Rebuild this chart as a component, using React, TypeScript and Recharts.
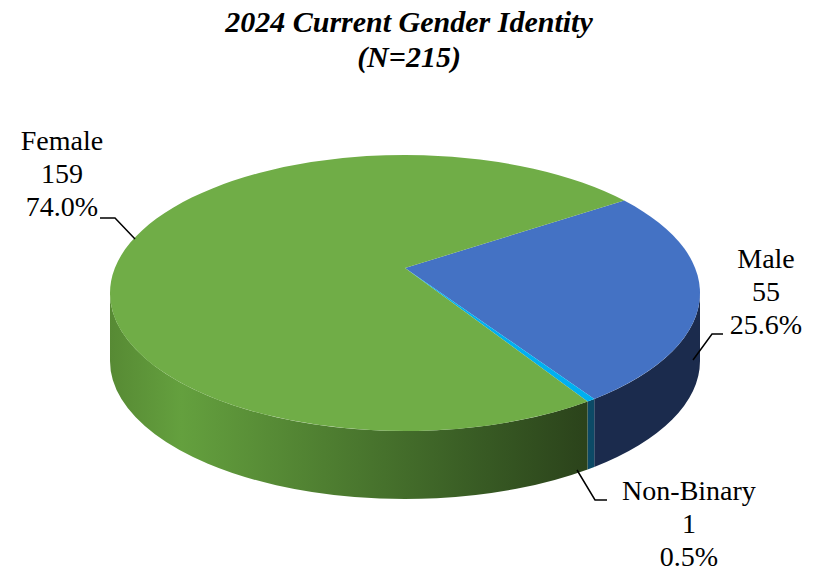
import { Cell, Pie, PieChart } from 'recharts';

// 2024 current gender identity, N=215
const categories = ['Male', 'Non-Binary', 'Female'];
const counts = [55, 1, 159];

const titleLines = ['2024 Current Gender Identity', '(N=215)'];

const topColors: Record<string, string> = {
  Male: '#4472C4',
  'Non-Binary': '#00B0F0',
  Female: '#70AD47',
};

// side wall shading, left to right
const sideStops: Record<string, [number, string][]> = {
  Male: [[0, '#1b2b4d'], [1, '#1b2b4d']],
  'Non-Binary': [[0, '#0c4a66'], [1, '#0c4a66']],
  Female: [
    [0, '#578a34'],
    [0.15, '#64a03e'],
    [0.45, '#4f7f31'],
    [0.75, '#3a5e25'],
    [1, '#2b431b'],
  ],
};

// label placement relative to pie centre: text centre x, first baseline, leader points
const labelLayout: Record<string, { x: number; y: number; line: number[][] }> = {
  Female: { x: -343, y: -143, line: [[-270, -54], [-290, -75], [-305, -75]] },
  Male: { x: 361, y: -25, line: [[288, 67], [307, 41], [318, 41]] },
  'Non-Binary': { x: 284, y: 207, line: [[172, 177], [190, 207], [202, 207]] },
};

const W = 818;
const H = 571;
const CX = 405;
const CY = 293;
const R = 295;
const TILT = 0.468; // ry / rx of the top face
const DEPTH = 68;
const LIFT = 25; // perspective shift of the apex
const FONT = '"Liberation Serif", "Times New Roman", serif';

const data = categories.map((name, i) => ({ name, value: counts[i] }));

const RAD = Math.PI / 180;

function pt(cx: number, cy: number, r: number, deg: number, dy = 0) {
  return [cx + r * Math.cos(deg * RAD), cy - r * TILT * Math.sin(deg * RAD) + dy];
}

function Slice(props: any) {
  const { cx, cy, outerRadius, startAngle, endAngle } = props;
  const name = props.name ?? props.payload?.name;
  const r = outerRadius;
  const ry = r * TILT;
  const hi = Math.max(startAngle, endAngle);
  const lo = Math.min(startAngle, endAngle);
  const large = hi - lo > 180 ? 1 : 0;
  const a = pt(cx, cy, r, hi);
  const b = pt(cx, cy, r, lo);
  const top = `M${cx},${cy - LIFT} L${a[0]},${a[1]} A${r},${ry} 0 ${large} 1 ${b[0]},${b[1]} Z`;

  // visible front wall: parts of the arc in the lower half
  const walls: string[] = [];
  for (let k = -2; k <= 1; k++) {
    const s = Math.min(hi, 360 * k);
    const e = Math.max(lo, 360 * k - 180);
    if (s - e <= 0) continue;
    const p1 = pt(cx, cy, r, s);
    const p2 = pt(cx, cy, r, e);
    const q2 = pt(cx, cy, r, e, DEPTH);
    const q1 = pt(cx, cy, r, s, DEPTH);
    walls.push(
      `M${p1[0]},${p1[1]} A${r},${ry} 0 0 1 ${p2[0]},${p2[1]} L${q2[0]},${q2[1]} A${r},${ry} 0 0 0 ${q1[0]},${q1[1]} Z`,
    );
  }
  const gid = `side-${String(name).replace(/\W/g, '')}`;
  return (
    <g>
      <defs>
        <linearGradient id={gid} gradientUnits="userSpaceOnUse" x1={cx - r} x2={cx + 180} y1={0} y2={0}>
          {(sideStops[name] ?? []).map(([o, c]) => (
            <stop key={o} offset={o} stopColor={c} />
          ))}
        </linearGradient>
      </defs>
      {walls.map((d, i) => (
        <path key={i} d={d} fill={`url(#${gid})`} stroke="none" />
      ))}
      <path d={top} fill={topColors[name]} stroke="none" />
    </g>
  );
}

function SliceLabel(props: any) {
  const { cx, cy, name, value, percent } = props;
  const lay = labelLayout[name];
  if (!lay) return null;
  const pts = lay.line.map(([x, y]) => `${cx + x},${cy + y}`).join(' ');
  const tx = cx + lay.x;
  const ty = cy + lay.y;
  return (
    <g>
      <polyline points={pts} fill="none" stroke="#000" strokeWidth={1.5} />
      <text
        x={tx}
        y={ty}
        textAnchor="middle"
        fontSize={28}
        fill="#000"
        style={{ fontFamily: FONT, fontWeight: 'normal' }}
      >
        <tspan x={tx} dy={0}>{name}</tspan>
        <tspan x={tx} dy={33}>{value}</tspan>
        <tspan x={tx} dy={33}>{`${(percent * 100).toFixed(1)}%`}</tspan>
      </text>
    </g>
  );
}

export default function App() {
  return (
    <div style={{ position: 'absolute', left: 0, top: 0, width: W, height: H, background: '#fff' }}>
      <div
        style={{
          position: 'absolute',
          left: 0,
          top: 4,
          width: W,
          textAlign: 'center',
          fontFamily: FONT,
          fontWeight: 'bold',
          fontStyle: 'italic',
          fontSize: 30,
          lineHeight: '35px',
          color: '#000',
        }}
      >
        {titleLines.map((t) => (
          <div key={t}>{t}</div>
        ))}
      </div>
      <PieChart width={W} height={H} margin={{ top: 0, right: 0, bottom: 0, left: 0 }}>
        <Pie
          data={data}
          dataKey="value"
          nameKey="name"
          cx={CX}
          cy={CY}
          outerRadius={R}
          startAngle={42}
          endAngle={42 - 360}
          stroke="none"
          shape={Slice}
          activeShape={Slice}
          inactiveShape={Slice}
          label={SliceLabel}
          labelLine={false}
          isAnimationActive={false}
        >
          {data.map((d) => (
            <Cell key={d.name} fill={topColors[d.name]} />
          ))}
        </Pie>
      </PieChart>
    </div>
  );
}
